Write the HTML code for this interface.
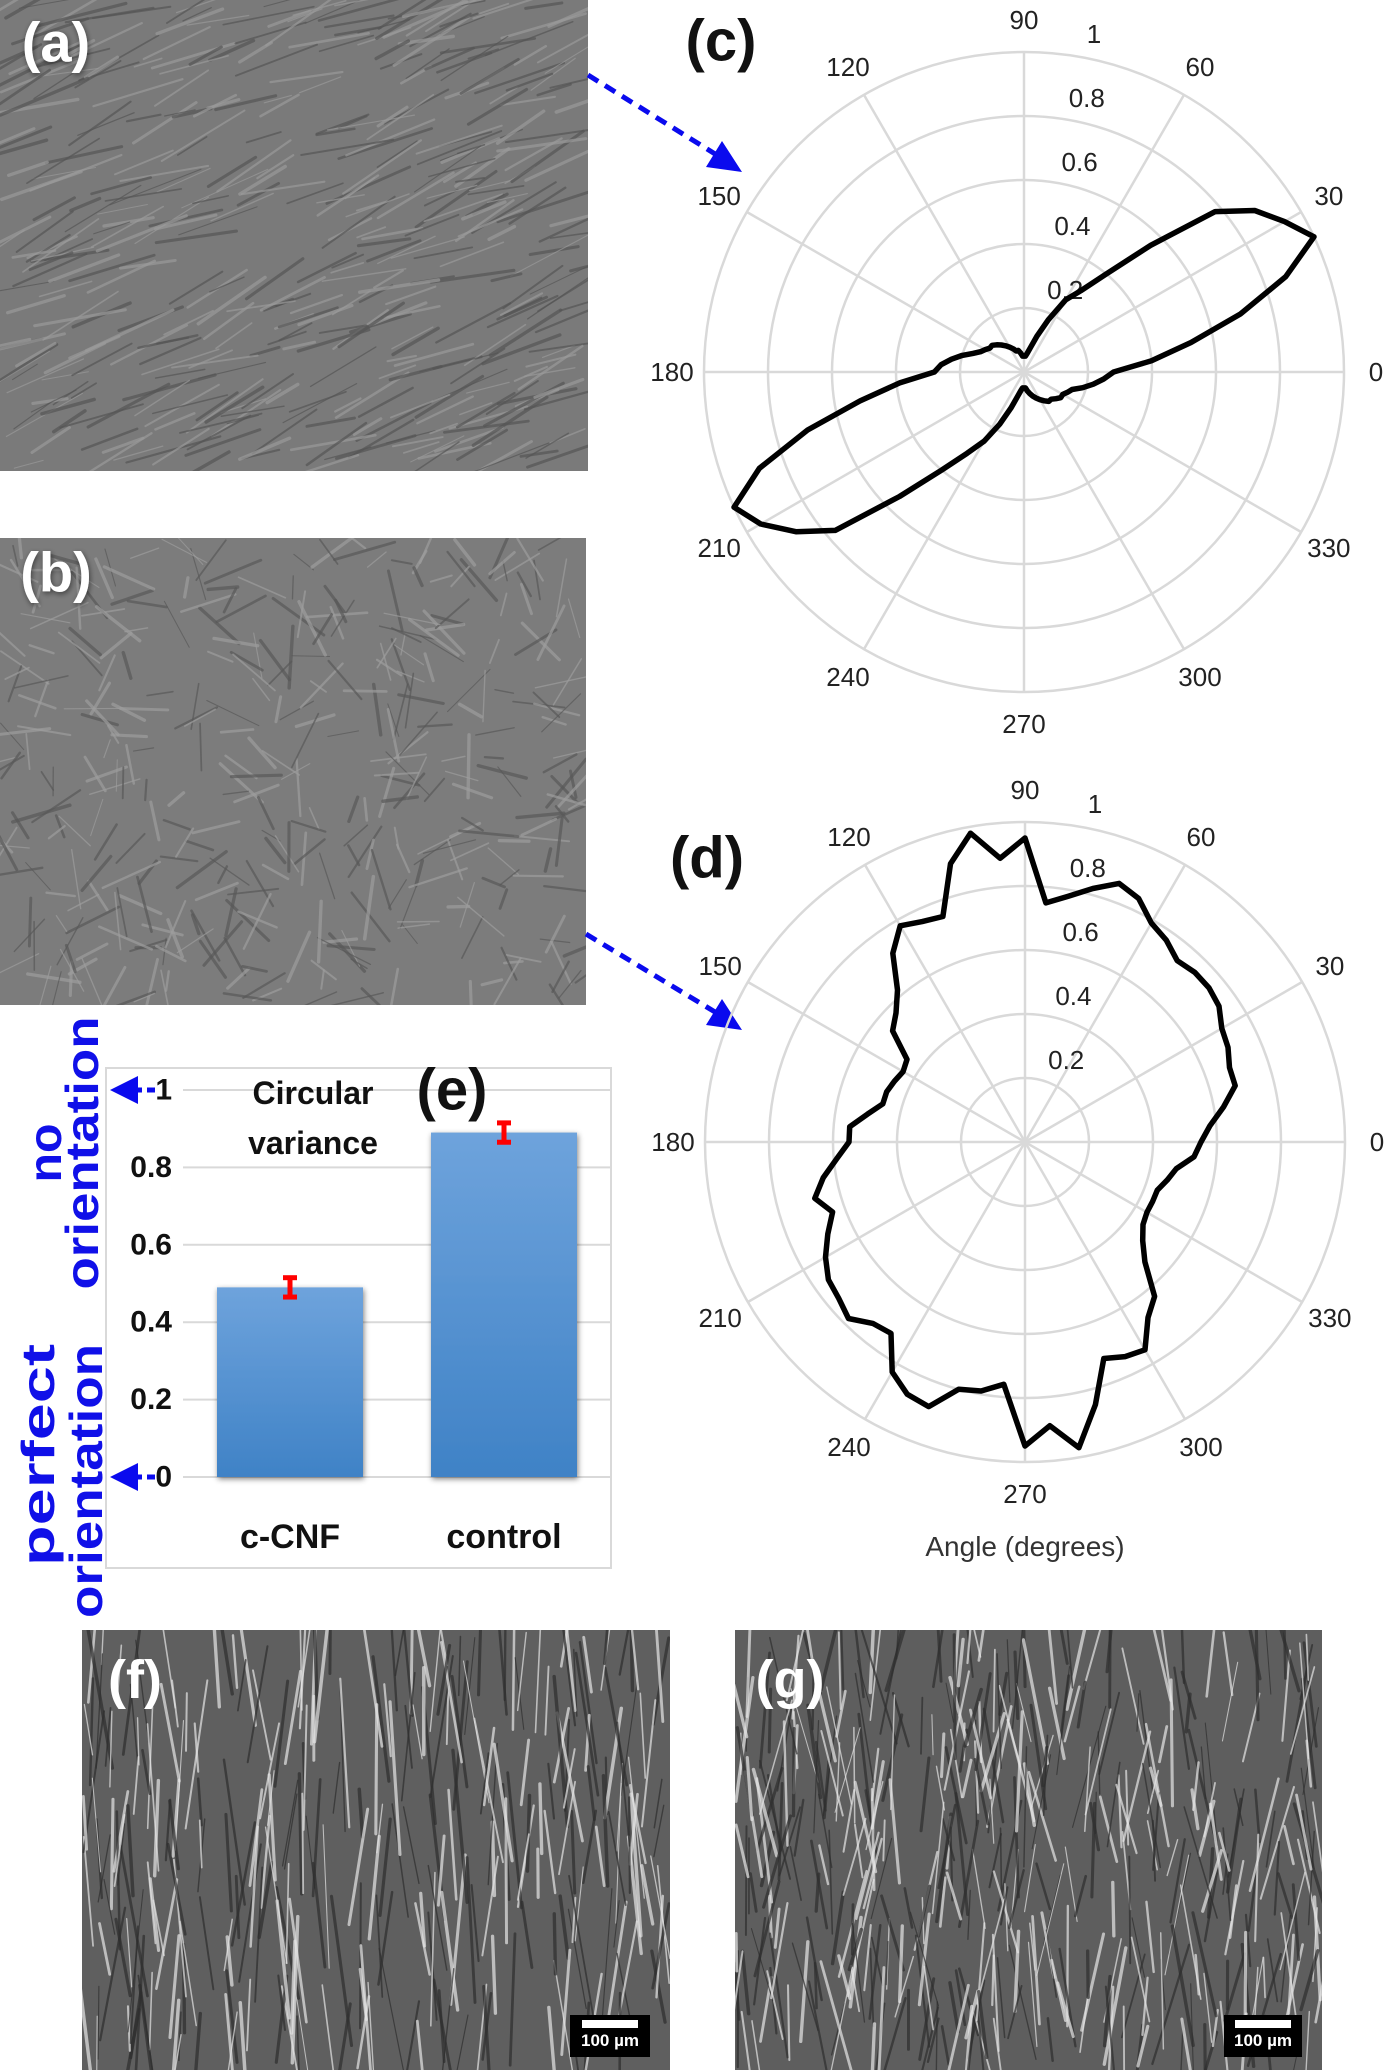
<!DOCTYPE html>
<html><head><meta charset="utf-8"><style>
html,body{margin:0;padding:0;background:#fff;}
svg{display:block;}
text{font-family:"Liberation Sans",sans-serif;}
</style></head><body>
<svg id="fig" width="1396" height="2070" viewBox="0 0 1396 2070" xmlns="http://www.w3.org/2000/svg">
<defs>
<linearGradient id="barGrad" x1="0" y1="0" x2="0" y2="1"><stop offset="0" stop-color="#6ea3dc"/><stop offset="1" stop-color="#3f82c6"/></linearGradient>
<filter id="shadow" x="-20%" y="-20%" width="140%" height="140%"><feGaussianBlur in="SourceAlpha" stdDeviation="3"/><feOffset dx="1" dy="2"/><feComponentTransfer><feFuncA type="linear" slope="0.5"/></feComponentTransfer><feMerge><feMergeNode/><feMergeNode in="SourceGraphic"/></feMerge></filter>
<clipPath id="clipA"><rect x="0" y="0" width="588" height="471"/></clipPath>
<clipPath id="clipB"><rect x="0" y="538" width="586" height="467"/></clipPath>
<clipPath id="clipF"><rect x="82" y="1630" width="588" height="440"/></clipPath>
<clipPath id="clipG"><rect x="735" y="1630" width="587" height="440"/></clipPath>
</defs>

<!-- photos -->
<g clip-path="url(#clipA)"><rect x="0" y="0" width="588" height="471" fill="#7a7a7a"/><g id="texA"></g></g>
<g clip-path="url(#clipB)"><rect x="0" y="538" width="586" height="467" fill="#7c7c7c"/><g id="texB"></g></g>
<g clip-path="url(#clipF)"><rect x="82" y="1630" width="588" height="440" fill="#5f5f5f"/><g id="texF"></g></g>
<g clip-path="url(#clipG)"><rect x="735" y="1630" width="587" height="440" fill="#5e5e5e"/><g id="texG"></g></g>

<text x="56" y="42" font-size="56" font-weight="bold" fill="#fff" text-anchor="middle" dominant-baseline="central" filter="url(#shadow)">(a)</text>
<text x="56" y="572" font-size="56" font-weight="bold" fill="#fff" text-anchor="middle" dominant-baseline="central" filter="url(#shadow)">(b)</text>
<text x="135" y="1680" font-size="54" font-weight="bold" fill="#fff" text-anchor="middle" dominant-baseline="central">(f)</text>
<text x="790" y="1680" font-size="54" font-weight="bold" fill="#fff" text-anchor="middle" dominant-baseline="central">(g)</text>

<g><rect x="570" y="2015" width="80" height="42" fill="#000"/><rect x="582" y="2020" width="56" height="8" fill="#fff"/><text x="610" y="2046" font-size="17" font-weight="bold" fill="#fff" text-anchor="middle">100 µm</text></g>
<g><rect x="1224" y="2015" width="78" height="42" fill="#000"/><rect x="1235" y="2020" width="56" height="8" fill="#fff"/><text x="1263" y="2046" font-size="17" font-weight="bold" fill="#fff" text-anchor="middle">100 µm</text></g>

<!-- arrows -->
<g><line x1="588" y1="75" x2="720" y2="157" stroke="#0a0aee" stroke-width="5" stroke-dasharray="12 8"/><polygon points="742,172 706,167 722,141" fill="#0a0aee"/></g>
<g><line x1="586" y1="934" x2="720" y2="1015" stroke="#0a0aee" stroke-width="5" stroke-dasharray="12 8"/><polygon points="742,1030 706,1025 722,999" fill="#0a0aee"/></g>

<g id="polarC"></g>
<g id="polarD"></g>
<text x="721" y="41" font-size="58" font-weight="bold" fill="#111" text-anchor="middle" dominant-baseline="central">(c)</text>
<text x="707" y="858" font-size="58" font-weight="bold" fill="#111" text-anchor="middle" dominant-baseline="central">(d)</text>
<text x="1025" y="1556" font-size="28" fill="#333" text-anchor="middle">Angle (degrees)</text>

<g id="barChart"></g>
</svg>
<script>
// ---- polar data (radius 0..1 at 5-degree steps) ----
const angleStepsC = 5;
const valuesC = [0.28,0.40,0.53,0.70,0.87,1.00,0.94,0.88,0.78,0.56,0.40,0.31,0.26,0.18,0.12,0.08,0.06,0.05,
0.05,0.05,0.06,0.07,0.07,0.08,0.09,0.10,0.11,0.12,0.13,0.13,0.14,0.15,0.17,0.20,0.23,0.26,
0.28,0.39,0.52,0.70,0.88,1.00,0.95,0.87,0.77,0.55,0.40,0.31,0.25,0.18,0.12,0.08,0.06,0.05,
0.05,0.05,0.06,0.07,0.08,0.09,0.10,0.11,0.12,0.12,0.13,0.14,0.14,0.15,0.16,0.19,0.22,0.25];
const valuesD = [0.55,0.58,0.63,0.68,0.68,0.70,0.71,0.74,0.75,0.75,0.74,0.77,0.79,0.84,0.86,0.82,0.78,0.75,
0.95,0.89,0.98,0.90,0.75,0.76,0.78,0.72,0.62,0.57,0.54,0.45,0.44,0.45,0.46,0.46,0.50,0.55,
0.55,0.59,0.64,0.68,0.64,0.68,0.72,0.75,0.76,0.78,0.74,0.73,0.83,0.87,0.88,0.80,0.79,0.76,
0.95,0.89,0.97,0.85,0.72,0.74,0.75,0.67,0.63,0.53,0.48,0.45,0.44,0.44,0.44,0.46,0.48,0.53];
const angleLabels = [0,30,60,90,120,150,180,210,240,270,300,330];
const radialTicks = [0.2,0.4,0.6,0.8,1];
const radialTickLabels = ["0.2","0.4","0.6","0.8","1"];

// ---- bar chart data ----
const barCategories = ["c-CNF","control"];
const barValues = [0.49,0.89];
const barErrors = [0.025,0.025];
const yTicks = [0,0.2,0.4,0.6,0.8,1];
const yTickLabels = ["0","0.2","0.4","0.6","0.8","1"];

const NS = "http://www.w3.org/2000/svg";
function mk(tag, attrs, parent){ const e=document.createElementNS(NS,tag); for(const k in attrs) e.setAttribute(k,attrs[k]); parent.appendChild(e); return e; }

function drawPolar(g, cx, cy, R, values, step, prefix){
  const rad = (d)=>d*Math.PI/180;
  const px = (deg,v)=>cx+R*v*Math.cos(rad(deg));
  const py = (deg,v)=>cy-R*v*Math.sin(rad(deg));
  radialTicks.forEach((t,i)=>{
    const c = mk('circle',{cx:cx,cy:cy,r:R*t,fill:'none',stroke:'#d9d9d9','stroke-width':2.5},g);
    
    
  });
  angleLabels.forEach(a=>{
    const l = mk('line',{x1:cx,y1:cy,x2:px(a,1),y2:py(a,1),stroke:'#d9d9d9','stroke-width':2.5},g);
    
    
    const t = mk('text',{x:px(a,1.1),y:py(a,1.1),'font-size':26,fill:'#222','text-anchor':'middle','dominant-baseline':'central'},g);
    t.textContent = String(a);
    
    
  });
  radialTicks.forEach((t,i)=>{
    const tx = mk('text',{x:cx+34+t*36,y:cy-R*t-18,'font-size':26,fill:'#222','text-anchor':'middle','dominant-baseline':'central'},g);
    tx.textContent = radialTickLabels[i];
    
    
  });
  let d='';
  values.forEach((v,i)=>{ const a=i*step; d += (i?'L':'M')+px(a,v).toFixed(1)+','+py(a,v).toFixed(1); });
  d+='Z';
  const p = mk('path',{d:d,fill:'none',stroke:'#000','stroke-width':5.5,'stroke-linejoin':'round'},g);
  
  
}
drawPolar(document.getElementById('polarC'), 1024, 372, 320, valuesC, angleStepsC, 'polar-c');
drawPolar(document.getElementById('polarD'), 1025, 1142, 320, valuesD, angleStepsC, 'polar-d');

// ---- bar chart ----
(function(){
  const g = document.getElementById('barChart');
  const y0 = 1477, y1 = 1090;
  const yS = v => y0 - (y0-y1)*v;
  const frame = mk('rect',{x:106,y:1068,width:505,height:500,fill:'#fff',stroke:'#d9d9d9','stroke-width':2},g);
  
  
  yTicks.forEach((t,i)=>{
    const l = mk('line',{x1:183,y1:yS(t),x2:611,y2:yS(t),stroke:'#d9d9d9','stroke-width':2},g);
    
    
    const tx = mk('text',{x:172,y:yS(t),'font-size':30,'font-weight':'bold',fill:'#111','text-anchor':'end','dominant-baseline':'central'},g);
    tx.textContent = yTickLabels[i];
    
    
  });
  const bandL = 183, bandW = (611-183)/barCategories.length;
  barCategories.forEach((c,i)=>{
    const cx = bandL + bandW*(i+0.5);
    const bw = 146;
    const r = mk('rect',{x:cx-bw/2,y:yS(barValues[i]),width:bw,height:y0-yS(barValues[i]),fill:'url(#barGrad)',filter:'url(#shadow)'},g);
    
    
    const eg = mk('g',{},g);
    
    
    const ya = yS(barValues[i]+barErrors[i]), yb = yS(barValues[i]-barErrors[i]);
    mk('line',{x1:cx,y1:ya,x2:cx,y2:yb,stroke:'#f00','stroke-width':5},eg);
    mk('line',{x1:cx-7,y1:ya,x2:cx+7,y2:ya,stroke:'#f00','stroke-width':5},eg);
    mk('line',{x1:cx-7,y1:yb,x2:cx+7,y2:yb,stroke:'#f00','stroke-width':5},eg);
    const tx = mk('text',{x:cx,y:1537,'font-size':34,'font-weight':'bold',fill:'#111','text-anchor':'middle','dominant-baseline':'central'},g);
    tx.textContent = c;
    
    
  });
  const t1 = mk('text',{x:313,y:1093,'font-size':32,'font-weight':'bold',fill:'#111','text-anchor':'middle','dominant-baseline':'central'},g);
  t1.textContent='Circular';
  
  
  const t2 = mk('text',{x:313,y:1143,'font-size':32,'font-weight':'bold',fill:'#111','text-anchor':'middle','dominant-baseline':'central'},g);
  t2.textContent='variance';
  
  
  const pl = mk('text',{x:452,y:1090,'font-size':58,'font-weight':'bold',fill:'#111','text-anchor':'middle','dominant-baseline':'central'},g);
  pl.textContent='(e)';
  
  
  [1,0].forEach(v=>{
    const ag = mk('g',{},g);
    
    
    mk('line',{x1:134,y1:yS(v),x2:156,y2:yS(v),stroke:'#0a0aee','stroke-width':5,'stroke-dasharray':'8 5'},ag);
    mk('polygon',{points:`110,${yS(v)} 138,${yS(v)-14} 138,${yS(v)+14}`,fill:'#0a0aee'},ag);
  });
  const blue = [["no",45,1153,59],["orientation",82,1153,273],["perfect",38,1455,222],["orientation",86,1481,274]];
  blue.forEach((b,i)=>{
    const t = mk('text',{x:b[1],y:b[2],'font-size':46,'font-weight':'bold',fill:'#1010e8','text-anchor':'middle','dominant-baseline':'central',transform:`rotate(-90 ${b[1]} ${b[2]})`,textLength:b[3],lengthAdjust:'spacingAndGlyphs'},g);
    t.textContent=b[0];
    
    
  });
})();

// ---- decorative micrograph textures (deterministic) ----
(function(){
  let s = 12345;
  const rnd = ()=>{ s = (s*1103515245+12345)%2147483648; return s/2147483648; };
  function tex(id, x0,y0,w,h,n,angFn,len,col1,col2){
    const g = document.getElementById(id);
    for(let i=0;i<n;i++){
      const x = x0+rnd()*w, y = y0+rnd()*h, a = angFn(), L = len*(0.4+rnd());
      const dx = Math.cos(a)*L/2, dy = Math.sin(a)*L/2;
      mk('line',{x1:x-dx,y1:y-dy,x2:x+dx,y2:y+dy,stroke:rnd()<0.5?col1:col2,'stroke-width':1+rnd()*2.5,'stroke-opacity':0.7,'stroke-linecap':'round'},g);
    }
  }
  tex('texA',0,0,588,471,420,()=>-0.38+(rnd()-0.5)*0.5,70,'#9a9a9a','#555');
  tex('texB',0,538,586,467,380,()=>rnd()*Math.PI,45,'#9c9c9c','#585858');
  tex('texF',82,1630,588,440,300,()=>Math.PI/2+(rnd()-0.5)*0.4,110,'#e6e6e6','#2e2e2e');
  tex('texG',735,1630,587,440,420,()=>Math.PI/2+(rnd()-0.5)*0.6,90,'#e6e6e6','#2e2e2e');
})();
</script>
</body></html>
